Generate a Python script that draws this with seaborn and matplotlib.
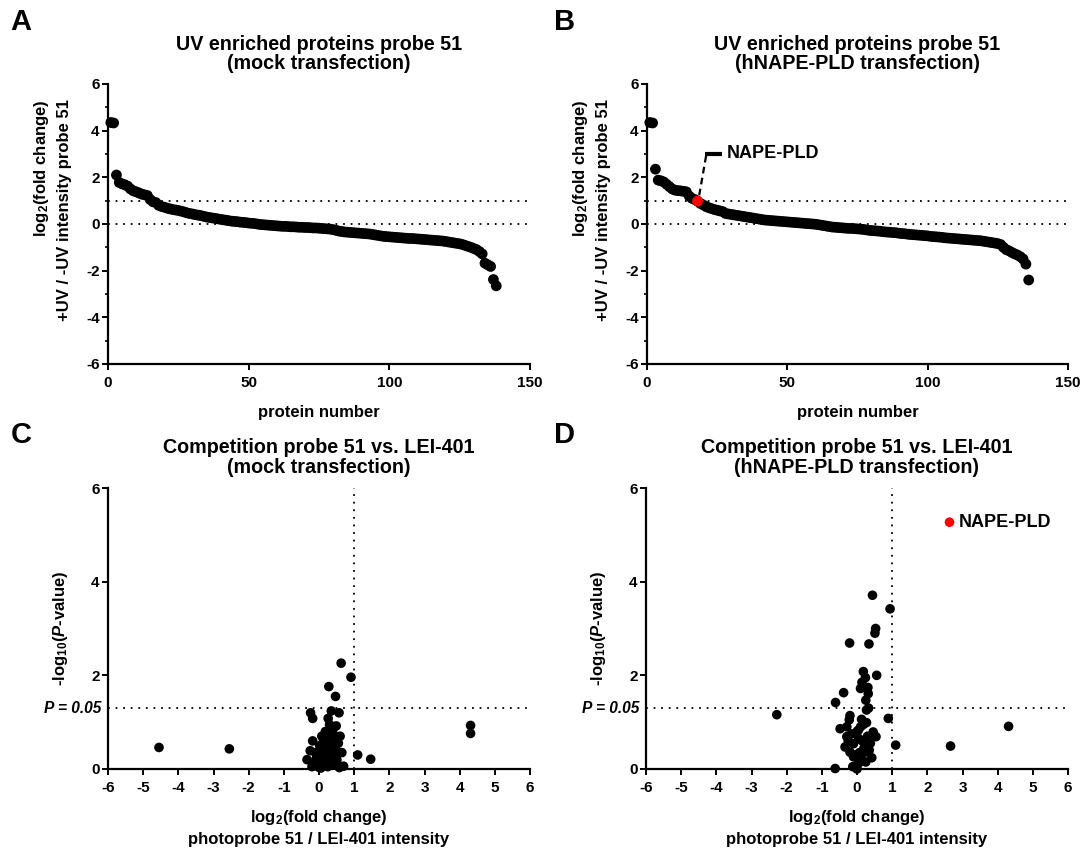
import matplotlib
matplotlib.use("Agg")
import matplotlib.pyplot as plt
import seaborn as sns
import pandas as pd
import numpy as np

# ---------------- data ----------------
# Panel A: sorted log2 fold change (+UV/-UV), mock transfection
mock_uv = [4.35, 4.33, 2.10, 1.78, 1.72, 1.68, 1.62, 1.50, 1.42, 1.38,
           1.33, 1.28, 1.25, 1.22, 1.05, 0.95, 0.92, 0.80, 0.75, 0.72,
           0.68, 0.65, 0.62, 0.60, 0.58, 0.55, 0.52, 0.48, 0.45, 0.43,
           0.40, 0.38, 0.36, 0.33, 0.30, 0.28, 0.26, 0.24, 0.22, 0.20,
           0.18, 0.16, 0.14, 0.12, 0.11, 0.10, 0.08, 0.07, 0.06, 0.04,
           0.03, 0.02, 0.00, -0.02, -0.03, -0.04, -0.05, -0.06, -0.07, -0.08,
           -0.09, -0.10, -0.10, -0.11, -0.12, -0.12, -0.13, -0.14, -0.14, -0.15,
           -0.15, -0.16, -0.17, -0.17, -0.18, -0.19, -0.20, -0.21, -0.22, -0.24,
           -0.27, -0.30, -0.32, -0.34, -0.35, -0.36, -0.37, -0.38, -0.39, -0.40,
           -0.41, -0.42, -0.43, -0.45, -0.47, -0.49, -0.51, -0.53, -0.54, -0.55,
           -0.56, -0.57, -0.58, -0.59, -0.60, -0.61, -0.62, -0.62, -0.63, -0.64,
           -0.65, -0.66, -0.67, -0.68, -0.69, -0.70, -0.71, -0.72, -0.73, -0.75,
           -0.77, -0.79, -0.81, -0.83, -0.85, -0.88, -0.92, -0.96, -1.00, -1.05,
           -1.10, -1.18, -1.28, -1.68, -1.75, -1.82, -2.38, -2.65]

# Panel B: sorted log2 fold change (+UV/-UV), hNAPE-PLD transfection
nape_uv = [4.35, 4.33, 2.35, 1.88, 1.85, 1.80, 1.70, 1.60, 1.50, 1.45,
           1.43, 1.42, 1.40, 1.38, 1.20, 1.10, 1.05, 0.98, 0.88, 0.82,
           0.75, 0.70, 0.66, 0.62, 0.59, 0.56, 0.53, 0.45, 0.43, 0.41,
           0.39, 0.37, 0.35, 0.33, 0.31, 0.29, 0.27, 0.25, 0.23, 0.21,
           0.19, 0.17, 0.16, 0.15, 0.14, 0.13, 0.12, 0.11, 0.10, 0.09,
           0.08, 0.07, 0.06, 0.05, 0.04, 0.03, 0.02, 0.01, 0.00, -0.01,
           -0.03, -0.05, -0.07, -0.09, -0.11, -0.13, -0.14, -0.15, -0.16, -0.17,
           -0.18, -0.19, -0.19, -0.20, -0.21, -0.22, -0.23, -0.25, -0.27, -0.28,
           -0.29, -0.30, -0.31, -0.33, -0.34, -0.35, -0.36, -0.37, -0.38, -0.40,
           -0.41, -0.42, -0.44, -0.45, -0.46, -0.47, -0.48, -0.49, -0.50, -0.51,
           -0.53, -0.54, -0.55, -0.56, -0.57, -0.59, -0.60, -0.61, -0.62, -0.63,
           -0.64, -0.65, -0.66, -0.67, -0.68, -0.69, -0.70, -0.71, -0.72, -0.74,
           -0.76, -0.78, -0.80, -0.82, -0.84, -0.88, -1.00, -1.10, -1.15, -1.22,
           -1.28, -1.33, -1.40, -1.50, -1.72, -2.40]
nape_uv_highlight = 18  # protein number of NAPE-PLD in panel B

# Panel C: competition, mock transfection
mock_fc = [-4.55, -2.55, 4.31, 4.31, 1.10, 1.47, 0.63, 0.91, 0.28, 0.47,
           -0.24, -0.18, 0.35, 0.57, 0.26, 0.49, 0.34, 0.60, 0.42, -0.18,
           0.13, -0.25, 0.46, -0.34, 0.04, 0.27, 0.51, 0.70, 0.58, -0.01,
           -0.15, 0.30, 0.20, 0.10, 0.00, 0.15, 0.35, 0.40, 0.22, -0.05,
           0.05, 0.25, 0.45, 0.30, 0.38, -0.10, 0.18, 0.08, 0.55, 0.65,
           -0.20, 0.12, 0.33, 0.48, 0.02, 0.28, 0.40, 0.16, -0.08, 0.36]
mock_p = [0.46, 0.43, 0.93, 0.76, 0.30, 0.21, 2.26, 1.96, 1.76, 1.55,
          1.20, 1.08, 1.24, 1.20, 1.08, 0.92, 0.83, 0.70, 0.72, 0.60,
          0.62, 0.39, 0.44, 0.20, 0.29, 0.37, 0.19, 0.06, 0.03, 0.04,
          0.11, 0.95, 0.55, 0.45, 0.20, 0.15, 0.10, 0.30, 0.25, 0.10,
          0.02, 0.05, 0.12, 0.50, 0.60, 0.35, 0.80, 0.70, 0.55, 0.35,
          0.05, 0.35, 0.20, 0.28, 0.50, 0.65, 0.85, 0.08, 0.22, 0.40]

# Panel D: competition, hNAPE-PLD transfection
nape_fc = [0.44, 0.94, 0.53, 0.51, -0.21, 0.34, 0.18, 0.24, 0.56, 0.10,
           0.31, 0.32, -0.38, -0.61, 0.25, 0.27, -2.28, -0.20, 0.89, 0.13,
           0.27, 4.31, -0.48, -0.29, 0.04, 0.46, 0.54, 1.10, 2.66, -0.29,
           -0.34, -0.10, 0.27, 0.42, -0.62, 0.00, -0.10, 0.09, 0.23, -0.20,
           -0.22, 0.15, 0.05, -0.05, 0.20, 0.35, 0.10, -0.15, 0.30, 0.12,
           0.02, -0.25, 0.18, 0.38, 0.07, -0.12, 0.25, 0.33, 0.00, 0.14]
nape_p = [3.71, 3.42, 3.00, 2.90, 2.69, 2.67, 2.08, 1.95, 2.00, 1.72,
          1.74, 1.61, 1.63, 1.42, 1.47, 1.26, 1.16, 1.14, 1.08, 1.06,
          0.99, 0.91, 0.86, 0.90, 0.83, 0.79, 0.69, 0.51, 0.49, 0.69,
          0.47, 0.54, 0.54, 0.24, 0.01, 0.00, 0.26, 0.15, 0.36, 0.36,
          1.05, 0.60, 0.65, 0.30, 0.45, 0.40, 0.90, 0.75, 0.70, 0.20,
          0.10, 0.60, 0.95, 0.55, 0.35, 0.05, 0.15, 1.30, 0.80, 1.85]
nape_hit_fc = [2.63]
nape_hit_p = [5.27]

uv_xticks = [0, 50, 100, 150]
uv_yticks = [-6, -4, -2, 0, 2, 4, 6]
volc_xticks = list(range(-6, 7))
volc_yticks = [0, 2, 4, 6]

# ---------------- style ----------------
sns.set_theme(style="ticks")
plt.rcParams['font.family'] = ['Liberation Sans', 'DejaVu Sans']
plt.rcParams['font.weight'] = 'bold'
plt.rcParams['axes.unicode_minus'] = False
for k in ('text.color', 'axes.labelcolor', 'xtick.color', 'ytick.color',
          'xtick.labelcolor', 'ytick.labelcolor', 'axes.edgecolor'):
    plt.rcParams[k] = 'black'
plt.rcParams['mathtext.fontset'] = 'custom'
plt.rcParams['mathtext.rm'] = 'Liberation Sans:bold'
plt.rcParams['mathtext.it'] = 'Liberation Sans:italic:bold'
plt.rcParams['mathtext.bf'] = 'Liberation Sans:bold'
plt.rcParams['mathtext.default'] = 'rm'

W, H = 1081, 849
fig = plt.figure(figsize=(W / 100, H / 100), dpi=100)


def rect(l, r, t, b):
    return [l / W, 1 - b / H, (r - l) / W, (b - t) / H]


axA = fig.add_axes(rect(108, 530, 84, 364))
axB = fig.add_axes(rect(647, 1068, 84, 364))
axC = fig.add_axes(rect(108, 530, 488, 769))
axD = fig.add_axes(rect(646, 1068, 488, 769))

TITLE_FS = 14.2
TICK_FS = 11
LABEL_FS = 12
NOTE_FS = 13
dot = (0, (1, 3.2))


def style_axes(ax, xt, yt):
    sns.despine(ax=ax)
    for s in ('left', 'bottom'):
        ax.spines[s].set_linewidth(1.6)
        ax.spines[s].set_color('black')
    ax.set_xticks(xt)
    ax.set_yticks(yt)
    ax.set_xticklabels([str(v) for v in xt], fontsize=TICK_FS, fontweight='bold',
                       color='black')
    ax.set_yticklabels([str(v) for v in yt], fontsize=TICK_FS, fontweight='bold',
                       color='black')
    ax.tick_params(which='major', length=4.5, width=1.4, color='black')
    ax.tick_params(axis='x', which='major', pad=4)
    ax.tick_params(axis='y', which='major', pad=1.5)
    ax.tick_params(which='minor', length=2.5, width=1.2, color='black')
    ax.set_facecolor('none')


# ----- panels A & B -----
for ax, vals, sub in ((axA, mock_uv, "(mock transfection)"),
                      (axB, nape_uv, "(hNAPE-PLD transfection)")):
    df = pd.DataFrame({'protein': np.arange(1, len(vals) + 1), 'fc': vals})
    ax.axhline(0, color='black', lw=1.3, ls=dot, zorder=1)
    ax.axhline(1, color='black', lw=1.3, ls=dot, zorder=1)
    sns.scatterplot(data=df, x='protein', y='fc', ax=ax, color='black',
                    s=60, edgecolor='none', linewidth=0, clip_on=False, zorder=3,
                    legend=False)
    ax.set_xlim(0, 150)
    ax.set_ylim(-6, 6)
    style_axes(ax, uv_xticks, uv_yticks)
    ax.set_yticks([-5, -3, -1, 1, 3, 5], minor=True)
    ax.set_xlabel("protein number", fontsize=LABEL_FS, fontweight='bold', labelpad=11)
    ax.set_ylabel("log$_2$(fold change)\n+UV / -UV intensity probe 51",
                  fontsize=LABEL_FS, fontweight='bold', labelpad=10, linespacing=1.55,
                  multialignment='right')
    ax.yaxis.label.set_y(0.55)
    ax.set_title("UV enriched proteins probe 51\n" + sub, fontsize=TITLE_FS,
                 fontweight='bold', pad=10.5, linespacing=1.05)

# highlight NAPE-PLD in B
hx = nape_uv_highlight
hy = nape_uv[hx - 1]
sns.scatterplot(x=[hx], y=[hy], ax=axB, color='red', s=60, edgecolor='none',
                linewidth=0, zorder=4, clip_on=False, legend=False)
axB.plot([hx + 0.6, hx + 3.1], [hy + 0.25, 2.95], color='black', lw=1.6,
         ls=(0, (3, 2)), zorder=5)
axB.plot([hx + 2.8, hx + 8.6], [3.0, 3.0], color='black', lw=3, solid_capstyle='butt',
         zorder=5)
axB.text(hx + 10.3, 3.0, "NAPE-PLD", fontsize=NOTE_FS, fontweight='bold',
         va='center', ha='left')

# ----- panels C & D -----
for ax, xs, ys, sub in ((axC, mock_fc, mock_p, "(mock transfection)"),
                        (axD, nape_fc, nape_p, "(hNAPE-PLD transfection)")):
    df = pd.DataFrame({'fc': xs, 'p': ys})
    ax.axvline(1, color='black', lw=1.3, ls=dot, zorder=1)
    ax.axhline(-np.log10(0.05), color='black', lw=1.3, ls=dot, zorder=1)
    sns.scatterplot(data=df, x='fc', y='p', ax=ax, color='black', s=48,
                    edgecolor='none', linewidth=0, clip_on=False, zorder=3,
                    legend=False)
    ax.set_xlim(-6, 6)
    ax.set_ylim(0, 6)
    style_axes(ax, volc_xticks, volc_yticks)
    ax.set_xlabel("log$_2$(fold change)\nphotoprobe 51 / LEI-401 intensity",
                  fontsize=LABEL_FS, fontweight='bold', labelpad=9.5, linespacing=1.4)
    ax.set_ylabel("-log$_{10}$($\\it{P}$-value)", fontsize=LABEL_FS,
                  fontweight='bold', labelpad=15)
    ax.set_title("Competition probe 51 vs. LEI-401\n" + sub, fontsize=TITLE_FS,
                 fontweight='bold', pad=11, linespacing=1.05)
    ax.text(-6.2, -np.log10(0.05), "P = 0.05", fontsize=11.2,
            fontweight='bold', fontstyle='italic', ha='right', va='center')

sns.scatterplot(x=nape_hit_fc, y=nape_hit_p, ax=axD, color='red', s=48,
                edgecolor='none', linewidth=0, zorder=4, legend=False)
axD.text(nape_hit_fc[0] + 0.25, nape_hit_p[0], "NAPE-PLD", fontsize=NOTE_FS,
         fontweight='bold', va='center', ha='left')

# panel letters
for lab, x, y in (("A", 21, 22), ("B", 565, 22), ("C", 21, 435), ("D", 565, 435)):
    fig.text(x / W, 1 - y / H, lab, fontsize=21, fontweight='bold',
             ha='center', va='center')

fig.savefig("out.png", dpi=100)
